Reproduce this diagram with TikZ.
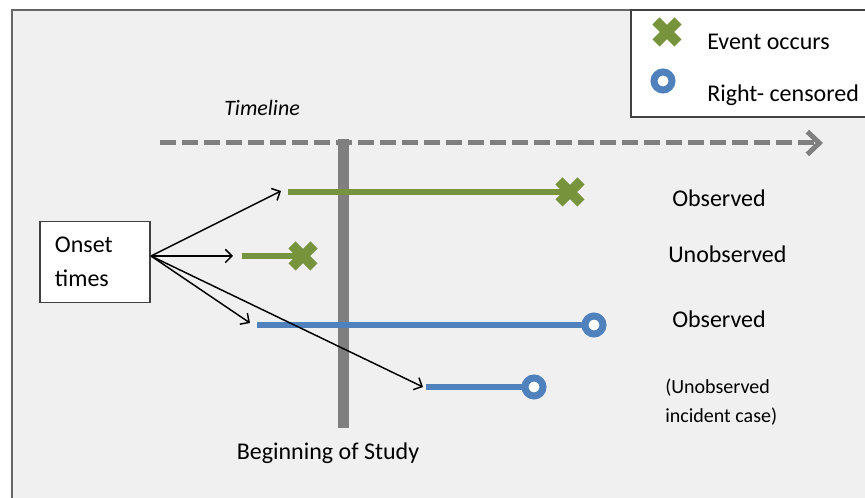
\documentclass[tikz,border=0pt]{standalone}
\usepackage{fontspec}
\setmainfont{Carlito}
\usetikzlibrary{arrows,arrows.meta}
\definecolor{evgreen}{HTML}{77933C}
\definecolor{cenblue}{HTML}{4F81BD}
\definecolor{tlgrey}{HTML}{7F7F7F}
\definecolor{panelbg}{HTML}{F0F0F0}
\newcommand{\bigfont}{\fontsize{18}{25.5}\selectfont}
\newcommand{\smallfont}{\fontsize{15}{21.75}\selectfont}

\tikzset{
	>={Straight Barb[length=5pt,width=10pt]},
	evline/.style={evgreen, line width=4.5pt},
	cenline/.style={cenblue, line width=4.5pt},
	cens/.style={circle, draw=cenblue, fill=white, line width=5.25pt, minimum size=13.5pt, inner sep=0pt},
	evx/.pic={\draw[evgreen, line width=7.5pt] (-11,-11) -- (11,11) (-11,11) -- (11,-11);},
	lab/.style={anchor=base west, font=\bigfont, inner sep=0pt},
	timeline/.style={tlgrey, line width=3.75pt, dash pattern=on 12pt off 4.5pt, -{Straight Barb[length=9pt,width=17pt]}},
}

\begin{document}
\begin{tikzpicture}[x=0.75pt,y=-0.75pt]
			\clip (0,0) rectangle (865,498);
			\fill[white] (0,0) rectangle (865,498);
			\filldraw[fill=panelbg, draw=black!60, line width=1.5pt] (12,10) rectangle (880,510);
			% legend
			\filldraw[fill=white, draw=black!75, line width=1.5pt] (631,10) rectangle (880,117);
			\pic at (667,32) {evx};
			\node[lab] (lev) at (707,50) {Event occurs};
			\node[cens] (lcen) at (663,81) {};
			\node[lab] (lrc) at (707,102) {Right- censored};
			% timeline and start of study
			\coordinate (tl0) at (160,143);
			\coordinate (tl1) at (823,143);
			\draw[timeline] (tl0) -- (tl1);
			\node[lab, font=\fontsize{16.5}{20}\selectfont\itshape] (tlab) at (224,116) {Timeline};
			\coordinate (bos0) at (343,139);
			\coordinate (bos1) at (343,428);
			\draw[tlgrey, line width=8.25pt] (bos0) -- (bos1);
			\node[anchor=base, font=\bigfont, inner sep=0pt] (bos) at (328,460) {Beginning of Study};
			% cases
			\coordinate (s1) at (288,192); \coordinate (e1) at (570,192);
			\coordinate (s2) at (242,256); \coordinate (e2) at (303,256);
			\coordinate (s3) at (257,325);
			\coordinate (s4) at (426,387);
			\draw[evline] (s1) -- (e1);
			\draw[evline] (s2) -- (e2);
			\pic at (e1) {evx};
			\pic at (e2) {evx};
			\node[cens] (c3) at (594,325) {};
			\node[cens] (c4) at (534,387) {};
			\draw[cenline] (s3) -- (c3);
			\draw[cenline] (s4) -- (c4);
			% onset box and arrows
			\node[draw=black!75, fill=white, line width=1pt, font=\bigfont, align=left, text width=60pt,
				inner xsep=11.25pt, inner ysep=0pt, minimum height=60.75pt] (onset) at (95,262) {Onset\\times};
			\coordinate (fan) at (151,256);
			\coordinate (t1) at (281,191);
			\coordinate (t2) at (233,256);
			\coordinate (t3) at (250,323);
			\coordinate (t4) at (423,387);
			\path[->, line width=1.1pt]
			(fan) edge (t1) edge (t2) edge (t3) edge (t4);
			% outcome labels
			\node[lab] (o1) at (672,207) {Observed};
			\node[lab] (o2) at (668,263) {Unobserved};
			\node[lab] (o3) at (672,328) {Observed};
			\node[anchor=west, font=\smallfont, align=left, inner sep=0pt] (o4) at (665,402) {(Unobserved\\incident case)};
		\end{tikzpicture}
\end{document}
